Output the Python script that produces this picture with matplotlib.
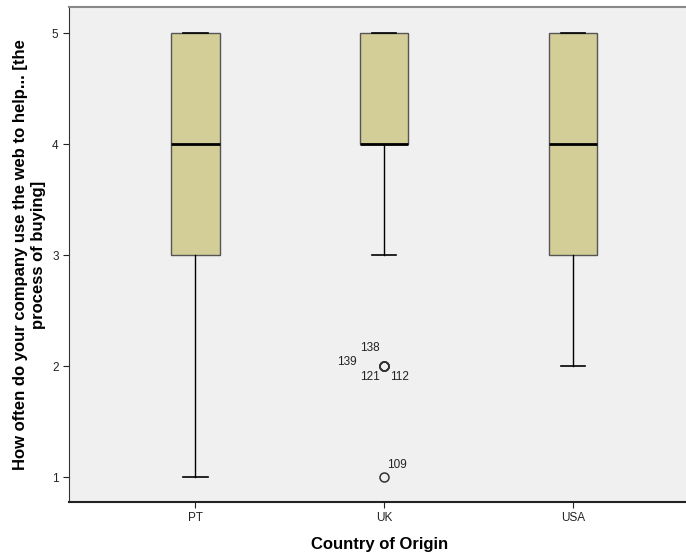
import matplotlib.pyplot as plt

# five-number summaries per country
countries = ['PT', 'UK', 'USA']
whisker_low = [1, 3, 2]
q1 = [3, 4, 3]
median = [4, 4, 4]
q3 = [5, 5, 5]
whisker_high = [5, 5, 5]

# UK outliers and their case numbers
uk_outlier_values = [2, 2, 2, 2, 1]
uk_outlier_cases = ['138', '139', '121', '112', '109']

plt.rcParams['font.family'] = ['Liberation Sans', 'DejaVu Sans']

stats = []
for i, name in enumerate(countries):
    stats.append({
        'label': name,
        'whislo': whisker_low[i],
        'q1': q1[i],
        'med': median[i],
        'q3': q3[i],
        'whishi': whisker_high[i],
        'fliers': uk_outlier_values if name == 'UK' else [],
    })

fig = plt.figure(figsize=(6.86, 5.56), dpi=100)
ax = fig.add_axes([0.1006, 0.0971, 0.905, 0.8903])
ax.set_facecolor('#f0f0f0')
fig.patch.set_facecolor('white')

ax.bxp(stats, positions=range(len(countries)), widths=0.255, patch_artist=True,
       boxprops=dict(facecolor='#d3ce97', edgecolor='#555555', linewidth=1),
       medianprops=dict(color='black', linewidth=2),
       whiskerprops=dict(color='black', linewidth=1),
       capprops=dict(color='black', linewidth=1.2),
       flierprops=dict(marker='o', markersize=6.5, markerfacecolor='none',
                       markeredgecolor='#333333', markeredgewidth=1.1),
       capwidths=0.13)

# case number labels next to the outliers
uk = countries.index('UK')
offsets = [(-10, 13), (-27, 3), (-10, -8), (11, -8), (9, 9)]
for val, case, off in zip(uk_outlier_values, uk_outlier_cases, offsets):
    ax.annotate(case, (uk, val), xytext=off, textcoords='offset points',
                ha='center', va='center', fontsize=8.5, color='#222222')

ax.set_xlim(-0.67, 2.62)
ax.set_ylim(0.775, 5.235)
ax.set_yticks([1, 2, 3, 4, 5])
ax.tick_params(labelsize=8.5, length=4, colors='#222222')

ax.spines['right'].set_visible(False)
ax.spines['top'].set_color('#888888')
ax.spines['top'].set_linewidth(1.5)
ax.spines['left'].set_color('#333333')
ax.spines['bottom'].set_color('#222222')
ax.spines['bottom'].set_linewidth(1.5)

ax.set_xlabel('Country of Origin', fontsize=12, fontweight='bold', labelpad=9)
ax.set_ylabel('How often do your company use the web to help... [the\nprocess of buying]',
              fontsize=12, fontweight='bold', labelpad=4.5)

fig.savefig('out.png', dpi=100)
